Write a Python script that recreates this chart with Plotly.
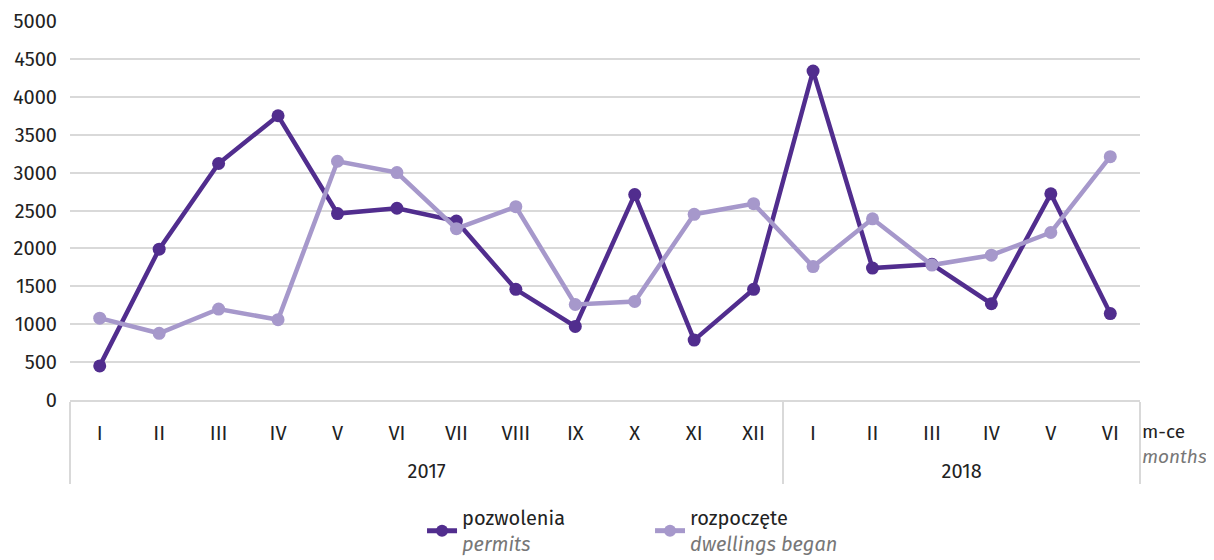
import plotly.graph_objects as go

# Data
years = ["2017"] * 12 + ["2018"] * 6
months = ["I", "II", "III", "IV", "V", "VI", "VII", "VIII", "IX", "X", "XI", "XII",
          "I", "II", "III", "IV", "V", "VI"]
permits = [450, 1990, 3120, 3750, 2460, 2530, 2360, 1460, 970, 2710, 790, 1460,
           4340, 1740, 1790, 1270, 2720, 1140]
began = [1080, 880, 1200, 1060, 3150, 3000, 2260, 2550, 1260, 1300, 2450, 2590,
         1760, 2390, 1780, 1910, 2210, 3210]

COLORS = {
    'dark': '#512D8E',
    'light': '#A698CB',
    'grid': '#D9D9D9',
    'text': '#222222',
    'sub': '#777777',
}
FONT = "Fira Sans, Noto Sans, sans-serif"

# extra blank line under month labels pushes the year row further down
month_labels = [m + "<br>&nbsp;" for m in months]

fig = go.Figure()

fig.add_trace(go.Scatter(
    x=[years, month_labels], y=permits,
    mode='lines+markers',
    name="pozwolenia<br><span style='color:#777777'><i>permits</i></span>",
    line=dict(color=COLORS['dark'], width=4.5),
    marker=dict(color=COLORS['dark'], size=13),
    hovertemplate="%{y}<extra></extra>",
))
fig.add_trace(go.Scatter(
    x=[years, month_labels], y=began,
    mode='lines+markers',
    name="rozpoczęte<br><span style='color:#777777'><i>dwellings began</i></span>",
    line=dict(color=COLORS['light'], width=4.5),
    marker=dict(color=COLORS['light'], size=13),
    hovertemplate="%{y}<extra></extra>",
))

fig.update_yaxes(
    range=[0, 5000],
    dtick=500,
    showgrid=True,
    gridcolor=COLORS['grid'],
    gridwidth=2,
    zeroline=False,
    showline=False,
    ticks='',
    ticklabelstandoff=12,
    automargin=False,
    tickfont=dict(size=20, color=COLORS['text'], family=FONT),
)
fig.update_xaxes(
    type='multicategory',
    range=[-0.5, 17.5],
    showgrid=False,
    showline=True,
    linecolor=COLORS['grid'],
    linewidth=2,
    showdividers=True,
    dividercolor=COLORS['grid'],
    dividerwidth=2,
    ticks='',
    ticklabelstandoff=14,
    automargin=False,
    tickfont=dict(size=20, color=COLORS['text'], family=FONT),
)

# axis unit label
fig.add_annotation(
    text="m-ce<br><span style='color:#777777'><i>months</i></span>",
    xref='paper', yref='paper', x=1.0, y=-0.048,
    xanchor='left', yanchor='top', align='left', showarrow=False,
    font=dict(size=19, color=COLORS['text'], family=FONT),
)

# page has an 8px body margin, so the figure is 8px smaller than the window
fig.update_layout(
    width=1206, height=552,
    margin=dict(l=62, r=74, t=13, b=160),
    plot_bgcolor='white',
    paper_bgcolor='white',
    legend=dict(
        orientation='h',
        xref='paper', x=0.329, xanchor='left',
        yref='container', y=0.112, yanchor='top',
        font=dict(size=20, color=COLORS['text'], family=FONT),
        entrywidth=183,
        itemsizing='constant',
    ),
)

fig.write_html("out.html")
